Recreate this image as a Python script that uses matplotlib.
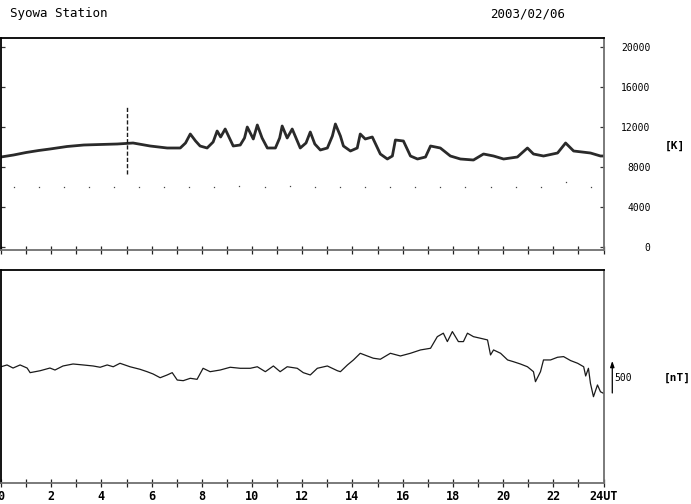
import matplotlib
matplotlib.use("Agg")
import matplotlib.pyplot as plt

# ---------------- data ----------------
title_left = "Syowa Station"
title_right = "2003/02/06"

# top panel: brightness temperature [K]
top_hours = [0.0, 0.5, 1.0, 1.5, 1.95, 2.63, 3.3, 3.95, 4.63, 4.95, 5.26, 5.94, 6.62, 7.14, 7.35, 7.54, 7.75,
             7.93, 8.21, 8.45, 8.61, 8.75, 8.93, 9.25, 9.53, 9.7, 9.81, 10.05, 10.21, 10.4, 10.61, 10.93,
             11.1, 11.20, 11.4, 11.60, 11.92, 12.15, 12.32, 12.5, 12.72, 13.0, 13.2, 13.32, 13.52, 13.64,
             13.92, 14.19, 14.31, 14.51, 14.79, 15.11, 15.39, 15.59, 15.71, 16.03, 16.31, 16.59, 16.91,
             17.11, 17.50, 17.90, 18.30, 18.82, 19.22, 19.62, 20.02, 20.57, 20.97, 21.21, 21.61, 22.17,
             22.49, 22.81, 23.48, 23.88, 24.0]
top_values = [9000, 9200, 9450, 9650, 9800, 10050, 10200, 10250, 10300, 10350, 10400, 10100, 9900, 9900,
              10400, 11300, 10600, 10100, 9900, 10500, 11600, 11000, 11800, 10100, 10200, 10900, 12000,
              10800, 12200, 10900, 9900, 9900, 10900, 12100, 10900, 11800, 9900, 10400, 11500, 10300,
              9700, 9900, 11100, 12300, 11100, 10100, 9600, 9900, 11300, 10800, 11000, 9300, 8800, 9100,
              10700, 10600, 9100, 8800, 9000, 10100, 9900, 9100, 8800, 8700, 9300, 9100, 8800, 9000, 9900,
              9300, 9100, 9400, 10400, 9600, 9400, 9100, 9100]

# spike at 05 UT
spike_x = [5.0]
spike_lo = [7300]
spike_hi = [14100]

# baseline dots at half hours
base_hours = [h + 0.5 for h in range(24)]
base_values = [6000, 6000, 6000, 6000, 6000, 6000, 6000, 6000, 6000, 6100, 6000, 6100,
               6000, 6000, 6000, 6000, 6000, 6000, 6000, 6000, 6000, 6000, 6500, 6000]

top_yticks = [0, 4000, 8000, 12000, 16000, 20000]

# bottom panel: magnetic field [nT]
bot_hours = [0.0, 0.24, 0.48, 0.76, 1.04, 1.16, 1.56, 1.95, 2.15, 2.47, 2.87, 3.27, 3.67, 3.95, 4.23, 4.47,
             4.74, 5.14, 5.54, 5.82, 6.06, 6.34, 6.62, 6.82, 7.02, 7.26, 7.54, 7.81, 8.05, 8.33, 8.73, 9.13,
             9.53, 9.93, 10.21, 10.53, 10.85, 11.12, 11.40, 11.80, 12.04, 12.32, 12.60, 13.0, 13.40, 13.52,
             13.80, 14.04, 14.31, 14.59, 14.83, 15.11, 15.51, 15.91, 16.31, 16.71, 17.11, 17.38, 17.62,
             17.78, 17.98, 18.22, 18.42, 18.58, 18.82, 19.10, 19.38, 19.50, 19.62, 19.90, 20.18, 20.41,
             20.69, 20.97, 21.21, 21.29, 21.49, 21.61, 21.89, 22.17, 22.41, 22.69, 22.97, 23.21, 23.29,
             23.40, 23.48, 23.60, 23.76, 23.88, 24.0]
bot_values = [152, 180, 132, 180, 132, 60, 90, 132, 101, 164, 195, 180, 164, 144, 180, 152,
              206, 152, 112, 75, 39, -19, 24, 60, -55, -65, -28, -44, 128, 75, 101, 144,
              128, 128, 152, 75, 164, 75, 152, 128, 60, 24, 128, 164, 90, 75,
              180, 258, 362, 320, 285, 269, 362, 320, 362, 414, 440, 621, 675,
              544, 700, 544, 544, 675, 621, 596, 570, 336, 414, 362, 258, 231,
              195, 152, 75, -81, 75, 258, 258, 300, 310, 248, 206, 152, 8,
              128, -106, -315, -132, -238, -262]

scale_nT = 500
x_ticks = list(range(0, 25))
x_ticklabels = [("24UT" if h == 24 else str(h)) if h % 2 == 0 else "" for h in x_ticks]

# ---------------- figure ----------------
fig = plt.figure(figsize=(6.91, 5.04), dpi=100)
W, H = 691.0, 504.0
def rect(x0, y0, x1, y1):
    return [x0 / W, 1 - y1 / H, (x1 - x0) / W, (y1 - y0) / H]

ax1 = fig.add_axes(rect(1, 38, 603.5, 250))
ax2 = fig.add_axes(rect(1, 270, 603.5, 483))

line_col = "#1a1a1a"
for ax in (ax1, ax2):
    ax.set_xlim(0, 24)
    ax.spines["left"].set_color("black")
    ax.spines["top"].set_color("black")
    ax.spines["right"].set_color("#707070")
    ax.spines["bottom"].set_color("#707070")
    for s in ax.spines.values():
        s.set_linewidth(1.3)
    ax.set_xticks(x_ticks)
    ax.tick_params(axis="x", direction="inout", length=6, width=0.9, color="#222222",
                   top=False, bottom=True)

# top panel
ax1.set_ylim(-300, 20900)
ax1.plot(top_hours, top_values, color="#2a2a2a", lw=2.0)
ax1.vlines(spike_x, spike_lo, spike_hi, colors=line_col, lw=1.0, linestyles=(0, (3, 1.5)))
ax1.plot(base_hours, base_values, ls="none", marker="s", ms=0.9, mew=0, color="#444444")
ax1.set_xticklabels([])
ax1.set_yticks(top_yticks)
ax1.set_yticklabels([str(v) for v in top_yticks])
ax1.tick_params(axis="y", left=True, right=True, labelleft=False, labelright=True,
                direction="in", length=3, width=0.9, color="#333333",
                labelsize=7, pad=34)
for lab in ax1.get_yticklabels():
    lab.set_horizontalalignment("right")
    lab.set_family("DejaVu Sans Mono")

# bottom panel
ax2.set_ylim(-1660, 1660)
ax2.plot(bot_hours, bot_values, color=line_col, lw=0.9)
ax2.set_yticks([])
ax2.set_xticklabels(x_ticklabels, fontfamily="DejaVu Sans Mono", fontweight="bold", fontsize=8.5)
ax2.tick_params(axis="x", pad=2)

# 500 nT scale arrow
arr_x = 24.35
arr_lo = -257
ax2.annotate("", xy=(arr_x, arr_lo + scale_nT), xytext=(arr_x, arr_lo),
             xycoords="data", textcoords="data", annotation_clip=False,
             arrowprops=dict(arrowstyle="-|>,head_length=0.35,head_width=0.12", color="black", lw=0.9,
                             shrinkA=0, shrinkB=0))
ax2.text(24.45, arr_lo + scale_nT / 2 - 10, str(scale_nT), fontsize=7, family="DejaVu Sans Mono",
         ha="left", va="center", clip_on=False)

# units
fig.text(665 / W, 1 - 146 / H, "[K]", fontsize=8, family="DejaVu Sans Mono", fontweight="bold",
         ha="left", va="center")
fig.text(664 / W, 1 - 378 / H, "[nT]", fontsize=8, family="DejaVu Sans Mono", fontweight="bold",
         ha="left", va="center")

# titles
fig.text(10 / W, 1 - 14 / H, title_left, fontsize=9, family="DejaVu Sans Mono", ha="left", va="center")
fig.text(490 / W, 1 - 14 / H, title_right, fontsize=9, family="DejaVu Sans Mono", ha="left", va="center")

fig.savefig("out.png", dpi=100)
